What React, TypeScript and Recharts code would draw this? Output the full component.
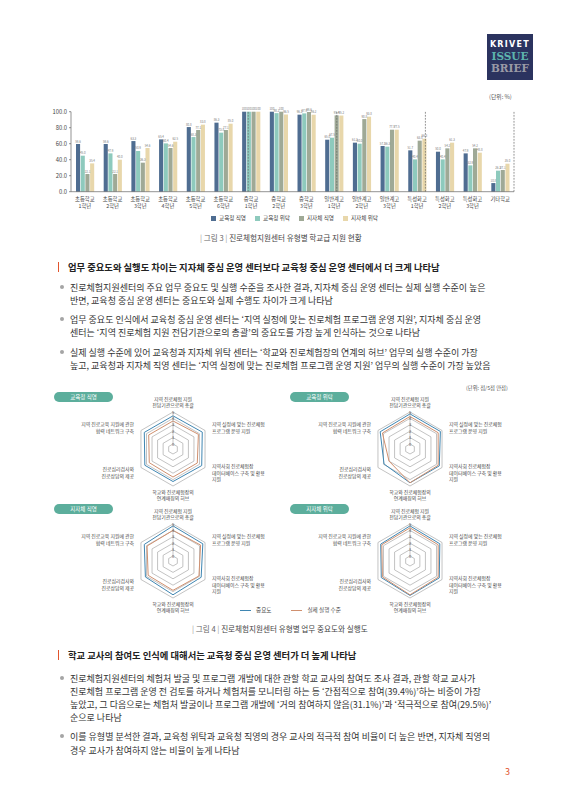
import React from "react";
import {
  BarChart,
  Bar,
  XAxis,
  YAxis,
  LabelList,
  ReferenceLine,
  RadarChart,
  Radar,
  PolarGrid,
  PolarAngleAxis,
  PolarRadiusAxis,
} from "recharts";

const FONT = '"Noto Sans CJK KR", "Noto Sans", sans-serif';

// 그림 3 : 학교급별 지원 현황 (%)
const SCHOOLS = [
  "초등학교\n1학년", "초등학교\n2학년", "초등학교\n3학년", "초등학교\n4학년",
  "초등학교\n5학년", "초등학교\n6학년", "중학교\n1학년", "중학교\n2학년",
  "중학교\n3학년", "일반계고\n1학년", "일반계고\n2학년", "일반계고\n3학년",
  "특성화고\n1학년", "특성화고\n2학년", "특성화고\n3학년", "기타학교",
];
const EDU_DIRECT = [59.6, 59.6, 63.3, 65.4, 80.8, 86.3, 100, 100, 96.3, 65.0, 61.3, 57.1, 51.7, 50.0, 47.9, 10.8];
const EDU_CONSIGN = [45.0, 47.9, 50.9, 60.4, 68.3, 73.8, 100, 98.2, 97.9, 67.5, 60.0, 56.3, 40.4, 40.4, 32.9, 26.3];
const LOCAL_DIRECT = [22.1, 22.1, 36.3, 54.6, 77.1, 77.1, 100, 100, 99.6, 95.4, 90.8, 77.5, 63.8, 54.2, 54.2, 27.1];
const LOCAL_CONSIGN = [35.4, 40.0, 54.6, 62.5, 83.8, 85.0, 100, 96.5, 96.2, 95.2, 93.8, 77.5, 66.3, 61.3, 48.8, 35.0];
const Y_TICKS = [0, 20, 40, 60, 80, 100];
const SEPARATORS = [6, 9, 12, 15];

const BAR_SERIES = [
  { key: "eduDirect", name: "교육청 직영", color: "#4f6d91" },
  { key: "eduConsign", name: "교육청 위탁", color: "#8ecabd" },
  { key: "localDirect", name: "지자체 직영", color: "#9fa996" },
  { key: "localConsign", name: "지자체 위탁", color: "#e8d7ab" },
];

// 그림 4 : 업무 중요도와 실행도 (5점 만점)
const TASKS = [
  "지역 진로체험 지원\n전담기관으로의 총괄",
  "지역 실정에 맞는 진로체험\n프로그램 운영 지원",
  "지역사회 진로체험장\n데이터베이스 구축 및 활용\n지원",
  "학교와 진로체험장의\n연계매칭의 허브",
  "진로심리검사와\n진로상담의 제공",
  "지역 진로교육 지원에 관한\n협력 네트워크 구축",
];
const EDU_DIRECT_IMP = [4.4, 4.5, 4.4, 4.3, 4.3, 4.4];
const EDU_DIRECT_EXE = [3.6, 3.8, 3.6, 3.6, 3.5, 3.6];
const EDU_CONSIGN_IMP = [4.7, 4.7, 4.5, 4.5, 3.9, 4.6];
const EDU_CONSIGN_EXE = [4.3, 4.3, 4.3, 4.5, 3.0, 4.2];
const LOCAL_DIRECT_IMP = [4.7, 4.6, 4.3, 4.5, 4.2, 4.4];
const LOCAL_DIRECT_EXE = [4.0, 4.2, 3.9, 3.8, 3.7, 3.9];
const LOCAL_CONSIGN_IMP = [4.7, 4.6, 4.5, 4.6, 4.4, 4.5];
const LOCAL_CONSIGN_EXE = [4.4, 4.3, 4.3, 4.5, 4.2, 4.3];

const IMP_COLOR = "#3f86b2";
const EXE_COLOR = "#d0906f";

const barData = SCHOOLS.map((s, i) => ({
  school: s,
  eduDirect: EDU_DIRECT[i],
  eduConsign: EDU_CONSIGN[i],
  localDirect: LOCAL_DIRECT[i],
  localConsign: LOCAL_CONSIGN[i],
}));

function SchoolTick(props: any) {
  const { x, y, payload } = props;
  const lines = String(payload.value).split("\n");
  return (
    <text x={x} y={y} textAnchor="middle" fontSize={5.3} fill="#444" fontFamily={FONT}>
      {lines.map((l, i) => (
        <tspan key={i} x={x} dy={i === 0 ? 1.5 : 7}>
          {l}
        </tspan>
      ))}
    </text>
  );
}

function SchoolChart() {
  return (
    <div style={{ position: "absolute", left: 30, top: 95 }}>
      <BarChart
        width={500}
        height={140}
        data={barData}
        margin={{ top: 16.7, right: 16, left: 11, bottom: 23.3 }}
        barSize={4.1}
        barGap={0.6}
      >
        <XAxis
          dataKey="school"
          interval={0}
          tickLine={false}
          axisLine={{ stroke: "#666", strokeWidth: 0.7 }}
          tick={<SchoolTick />}
          height={20}
        />
        <XAxis xAxisId="sep" type="number" domain={[0, 16]} hide />
        <YAxis
          domain={[0, 100]}
          ticks={Y_TICKS}
          width={30}
          tickSize={2}
          tickLine={{ stroke: "#666", strokeWidth: 0.7 }}
          axisLine={{ stroke: "#666", strokeWidth: 0.7 }}
          tick={{ fontSize: 5.8, fill: "#444", fontFamily: FONT }}
          tickFormatter={(v: number) => v.toFixed(1)}
        />
        {SEPARATORS.map((s) => (
          <ReferenceLine
            key={s}
            xAxisId="sep"
            x={s}
            stroke="#666"
            strokeWidth={0.7}
            strokeDasharray="1.8 1.2"
          />
        ))}
        {BAR_SERIES.map((s) => (
          <Bar key={s.key} dataKey={s.key} fill={s.color} isAnimationActive={false}>
            <LabelList
              dataKey={s.key}
              position="top"
              offset={1.5}
              fontSize={2.9}
              fill="#777"
              formatter={(v: number) => (v === 100 ? "100" : v.toFixed(1))}
            />
          </Bar>
        ))}
      </BarChart>
    </div>
  );
}

function AngleTick(props: any) {
  const { x, y, textAnchor, payload, cy } = props;
  const lines = String(payload.value).split("\n");
  const lh = 6.2;
  // the top label sits a little higher so it clears the "5" of the radius axis
  const lift = textAnchor === "middle" && y < (cy ?? y + 1) ? 3 : 0;
  const y0 = y - lift - ((lines.length - 1) * lh) / 2;
  return (
    <text
      x={x}
      y={y0}
      textAnchor={textAnchor}
      fontSize={4.9}
      fill="#444"
      fontFamily={FONT}
      dominantBaseline="central"
    >
      {lines.map((l, i) => (
        <tspan key={i} x={x} y={y0 + i * lh}>
          {l}
        </tspan>
      ))}
    </text>
  );
}

function TaskRadar({ cx, cy, imp, exe, title }: { cx: number; cy: number; imp: number[]; exe: number[]; title: string }) {
  const data = TASKS.map((t, i) => ({ task: t, imp: imp[i], exe: exe[i] }));
  const W = 240;
  const H = 124;
  return (
    <>
      <div style={{ position: "absolute", left: cx - W / 2, top: cy - H / 2 }}>
        <RadarChart
          width={W}
          height={H}
          cx={W / 2}
          cy={H / 2}
          outerRadius={37}
          innerRadius={5}
          data={data}
          margin={{ top: 0, right: 0, bottom: 0, left: 0 }}
        >
          <PolarGrid radialLines={false} stroke="#9a9a9a" strokeWidth={0.6} />
          <PolarAngleAxis dataKey="task" tickLine={false} axisLine={false} tick={<AngleTick />} />
          <PolarRadiusAxis
            angle={90}
            domain={[0, 5]}
            tickCount={6}
            axisLine={{ stroke: "#888", strokeWidth: 0.5 }}
            tick={{ fontSize: 4, fill: "#555", dy: 1.5 }}
            orientation="middle"
          />
          <Radar
            dataKey="imp"
            stroke={IMP_COLOR}
            strokeWidth={1}
            fill="none"
            fillOpacity={0}
            dot={false}
            isAnimationActive={false}
          />
          <Radar
            dataKey="exe"
            stroke={EXE_COLOR}
            strokeWidth={1}
            fill="none"
            fillOpacity={0}
            dot={false}
            isAnimationActive={false}
          />
        </RadarChart>
      </div>
      <div
        style={{
          position: "absolute",
          left: cx < 283 ? 54 : 290,
          top: cy - 57,
          width: 59,
          height: 10,
          borderRadius: 5,
          background: "#5cae9c",
          color: "#fff",
          fontSize: 5.5,
          lineHeight: "10px",
          textAlign: "center",
          fontFamily: FONT,
        }}
      >
        {title}
      </div>
    </>
  );
}

const line = (top: number, text: string) => (
  <div
    style={{
      position: "absolute",
      left: 70,
      top: top - 6.5,
      height: 13,
      lineHeight: "13px",
      fontSize: 9,
      color: "#333",
      whiteSpace: "nowrap",
      fontFamily: FONT,
    }}
  >
    {text}
  </div>
);

const dot = (top: number) => (
  <div
    style={{
      position: "absolute",
      left: 60,
      top: top - 2,
      width: 4,
      height: 4,
      borderRadius: 2,
      background: "#a5a5a5",
    }}
  />
);

const heading = (top: number, text: string) => (
  <>
    <div style={{ position: "absolute", left: 57.5, top: top - 5, width: 1.6, height: 10, background: "#e2552d" }} />
    <div
      style={{
        position: "absolute",
        left: 68,
        top: top - 7,
        height: 14,
        lineHeight: "14px",
        fontSize: 9.3,
        fontWeight: 700,
        color: "#222",
        whiteSpace: "nowrap",
        fontFamily: FONT,
      }}
    >
      {text}
    </div>
  </>
);

const caption = (top: number, left: number, num: string, text: string) => (
  <div
    style={{
      position: "absolute",
      left,
      top: top - 6,
      height: 12,
      lineHeight: "12px",
      fontSize: 7.6,
      color: "#444",
      whiteSpace: "nowrap",
      fontFamily: FONT,
    }}
  >
    <span style={{ color: "#999" }}>| </span>
    <span style={{ color: "#666" }}>그림 {num}</span>
    <span style={{ color: "#999" }}> | </span> {text}
  </div>
);

export default function App() {
  return (
    <div
      style={{
        position: "absolute",
        left: 0,
        top: 0,
        width: 566,
        height: 800,
        background: "#fff",
        overflow: "hidden",
        fontFamily: FONT,
      }}
    >
      {/* logo */}
      <div
        style={{
          position: "absolute",
          left: 487,
          top: 34,
          width: 46,
          height: 46,
          background: "#2b335f",
          textAlign: "center",
        }}
      >
        <div style={{ marginTop: 6, fontFamily: "DejaVu Sans", fontWeight: 700, fontSize: 8, letterSpacing: 1.3, color: "#fff", lineHeight: "10px" }}>
          KRIVET
        </div>
        <div style={{ fontFamily: "DejaVu Serif", fontWeight: 700, fontSize: 10.5, color: "#5db4ad", lineHeight: "12px" }}>
          ISSUE
        </div>
        <div style={{ fontFamily: "DejaVu Serif", fontWeight: 700, fontSize: 10.5, color: "#9a9aa6", lineHeight: "12px" }}>
          BRIEF
        </div>
      </div>

      <div style={{ position: "absolute", left: 489, top: 92, fontSize: 5.8, color: "#555", whiteSpace: "nowrap" }}>
        (단위: %)
      </div>

      <SchoolChart />

      {/* legend for 그림 3 */}
      <div style={{ position: "absolute", left: 211, top: 214, display: "flex", fontSize: 5.6, color: "#444", lineHeight: "8px" }}>
        {BAR_SERIES.map((s) => (
          <div key={s.key} style={{ display: "flex", alignItems: "center", marginRight: 9 }}>
            <span style={{ display: "inline-block", width: 5, height: 5, background: s.color, marginRight: 3 }} />
            {s.name}
          </div>
        ))}
      </div>

      {caption(238, 200, "3", "진로체험지원센터 유형별 학교급 지원 현황")}

      {heading(267, "업무 중요도와 실행도 차이는 지자체 중심 운영 센터보다 교육청 중심 운영 센터에서 더 크게 나타남")}

      {dot(287)}
      {line(287, "진로체험지원센터의 주요 업무 중요도 및 실행 수준을 조사한 결과, 지자체 중심 운영 센터는 실제 실행 수준이 높은")}
      {line(300, "반면, 교육청 중심 운영 센터는 중요도와 실제 수행도 차이가 크게 나타남")}
      {dot(319)}
      {line(319, "업무 중요도 인식에서 교육청 중심 운영 센터는 ‘지역 실정에 맞는 진로체험 프로그램 운영 지원’, 지자체 중심 운영")}
      {line(332, "센터는 ‘지역 진로체험 지원 전담기관으로의 총괄’의 중요도를 가장 높게 인식하는 것으로 나타남")}
      {dot(352)}
      {line(352, "실제 실행 수준에 있어 교육청과 지자체 위탁 센터는 ‘학교와 진로체험장의 연계의 허브’ 업무의 실행 수준이 가장")}
      {line(365, "높고, 교육청과 지자체 직영 센터는 ‘지역 실정에 맞는 진로체험 프로그램 운영 지원’ 업무의 실행 수준이 가장 높았음")}

      <div style={{ position: "absolute", left: 466, top: 384, fontSize: 5.3, color: "#555", whiteSpace: "nowrap" }}>
        (단위: 점/5점 만점)
      </div>

      <TaskRadar cx={173} cy={449} imp={EDU_DIRECT_IMP} exe={EDU_DIRECT_EXE} title="교육청 직영" />
      <TaskRadar cx={410} cy={449} imp={EDU_CONSIGN_IMP} exe={EDU_CONSIGN_EXE} title="교육청 위탁" />
      <TaskRadar cx={173} cy={561} imp={LOCAL_DIRECT_IMP} exe={LOCAL_DIRECT_EXE} title="지자체 직영" />
      <TaskRadar cx={410} cy={561} imp={LOCAL_CONSIGN_IMP} exe={LOCAL_CONSIGN_EXE} title="지자체 위탁" />

      {/* legend for 그림 4 */}
      <div style={{ position: "absolute", left: 240, top: 606, display: "flex", alignItems: "center", fontSize: 5.6, color: "#444", lineHeight: "8px", whiteSpace: "nowrap" }}>
        <span style={{ display: "inline-block", width: 11, height: 1, background: IMP_COLOR, marginRight: 5 }} />
        <span style={{ marginRight: 20 }}>중요도</span>
        <span style={{ display: "inline-block", width: 11, height: 1, background: EXE_COLOR, marginRight: 5 }} />
        <span>실제 실행 수준</span>
      </div>

      {caption(629, 192, "4", "진로체험지원센터 유형별 업무 중요도와 실행도")}

      {heading(655, "학교 교사의 참여도 인식에 대해서는 교육청 중심 운영 센터가 더 높게 나타남")}

      {dot(678)}
      {line(678, "진로체험지원센터의 체험처 발굴 및 프로그램 개발에 대한 관할 학교 교사의 참여도 조사 결과, 관할 학교 교사가")}
      {line(691, "진로체험 프로그램 운영 전 검토를 하거나 체험처를 모니터링 하는 등 ‘간접적으로 참여(39.4%)’하는 비중이 가장")}
      {line(704, "높았고, 그 다음으로는 체험처 발굴이나 프로그램 개발에 ‘거의 참여하지 않음(31.1%)’과 ‘적극적으로 참여(29.5%)’")}
      {line(717, "순으로 나타남")}
      {dot(736)}
      {line(736, "이를 유형별 분석한 결과, 교육청 위탁과 교육청 직영의 경우 교사의 적극적 참여 비율이 더 높은 반면, 지자체 직영의")}
      {line(750, "경우 교사가 참여하지 않는 비율이 높게 나타남")}

      <div style={{ position: "absolute", left: 505, top: 765, fontSize: 9, color: "#e2552d", fontFamily: FONT }}>3</div>
    </div>
  );
}
